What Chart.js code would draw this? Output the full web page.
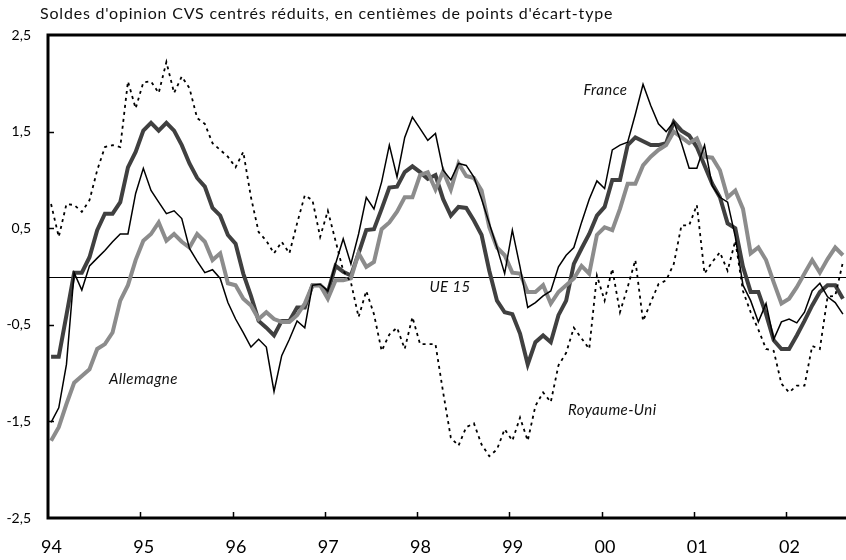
<!DOCTYPE html>
<html>
<head>
<meta charset="utf-8">
<script src="https://cdn.jsdelivr.net/npm/chart.js@4.4.1/dist/chart.umd.min.js"></script>
<style>
  html, body { margin: 0; padding: 0; background: #fff; }
  #wrap { width: 846px; height: 560px; }
</style>
</head>
<body>
<div id="wrap"><canvas id="chart" width="846" height="560"></canvas></div>
<script>
// monthly values, Jan 1994 -> Aug 2002
const yearLabels = ['94', '95', '96', '97', '98', '99', '00', '01', '02'];
const yTickValues = [-2.5, -1.5, -0.5, 0.5, 1.5, 2.5];

const ueData = [
  -0.83, -0.83, -0.40, 0.04, 0.04, 0.20, 0.48, 0.65, 0.65, 0.77,
  1.13, 1.29, 1.51, 1.59, 1.51, 1.59, 1.51, 1.36, 1.17, 1.02,
  0.93, 0.71, 0.63, 0.43, 0.34, 0.03, -0.20, -0.46, -0.53, -0.61,
  -0.46, -0.46, -0.32, -0.32, -0.09, -0.09, -0.16, 0.11, 0.05, 0.01,
  0.24, 0.48, 0.49, 0.70, 0.92, 0.93, 1.08, 1.14, 1.08, 1.01,
  1.05, 0.80, 0.63, 0.72, 0.71, 0.58, 0.43, 0.06, -0.25, -0.37,
  -0.39, -0.59, -0.91, -0.68, -0.61, -0.68, -0.40, -0.25, 0.13, 0.29,
  0.44, 0.63, 0.72, 1.00, 1.00, 1.36, 1.44, 1.40, 1.36, 1.36,
  1.38, 1.60, 1.51, 1.46, 1.34, 1.15, 0.96, 0.82, 0.55, 0.50,
  0.10, -0.16, -0.16, -0.39, -0.66, -0.75, -0.75, -0.61, -0.46, -0.30,
  -0.16, -0.09, -0.09, -0.23
];

const franceData = [
  -1.51, -1.36, -0.91, 0.04, -0.14, 0.11, 0.19, 0.27, 0.36, 0.44,
  0.44, 0.86, 1.12, 0.89, 0.77, 0.65, 0.68, 0.60, 0.29, 0.16,
  0.04, 0.07, -0.02, -0.27, -0.44, -0.58, -0.73, -0.65, -0.73, -1.19,
  -0.82, -0.65, -0.46, -0.53, -0.09, -0.08, -0.15, 0.13, 0.39, 0.13,
  0.44, 0.82, 0.70, 0.98, 1.36, 1.03, 1.44, 1.65, 1.53, 1.41,
  1.48, 1.10, 1.00, 1.17, 1.15, 1.03, 0.80, 0.55, 0.30, 0.03,
  0.48, 0.10, -0.32, -0.27, -0.20, -0.15, 0.10, 0.22, 0.30, 0.56,
  0.80, 0.99, 0.91, 1.31, 1.36, 1.39, 1.68, 1.99, 1.77, 1.58,
  1.50, 1.60, 1.38, 1.12, 1.12, 1.36, 0.94, 0.82, 0.77, 0.41,
  -0.09, -0.25, -0.47, -0.28, -0.65, -0.47, -0.44, -0.48, -0.37, -0.15,
  -0.07, -0.21, -0.27, -0.39
];

const allemagneData = [
  -1.70, -1.56, -1.32, -1.10, -1.03, -0.96, -0.75, -0.70, -0.58, -0.25,
  -0.09, 0.17, 0.37, 0.44, 0.56, 0.37, 0.44, 0.36, 0.30, 0.44,
  0.36, 0.17, 0.24, -0.07, -0.09, -0.23, -0.30, -0.44, -0.37, -0.44,
  -0.47, -0.47, -0.40, -0.28, -0.09, -0.09, -0.23, -0.04, -0.04, -0.02,
  0.24, 0.10, 0.15, 0.49, 0.56, 0.67, 0.82, 0.82, 1.05, 1.08,
  0.90, 1.09, 0.90, 1.17, 1.04, 1.02, 0.89, 0.51, 0.30, 0.22,
  0.04, 0.03, -0.16, -0.16, -0.09, -0.28, -0.16, -0.09, -0.02, 0.11,
  0.03, 0.43, 0.51, 0.48, 0.70, 0.96, 0.96, 1.15, 1.24, 1.31,
  1.36, 1.50, 1.44, 1.38, 1.43, 1.24, 1.23, 1.10, 0.82, 0.89,
  0.70, 0.24, 0.30, 0.17, -0.06, -0.28, -0.23, -0.11, 0.03, 0.17,
  0.04, 0.18, 0.30, 0.22
];

const royaumeUniData = [
  0.75, 0.41, 0.75, 0.74, 0.67, 0.79, 1.10, 1.34, 1.36, 1.34,
  2.02, 1.74, 2.01, 2.02, 1.90, 2.22, 1.90, 2.07, 1.95, 1.64,
  1.58, 1.38, 1.31, 1.24, 1.13, 1.29, 0.82, 0.46, 0.37, 0.24,
  0.36, 0.24, 0.55, 0.84, 0.79, 0.41, 0.68, 0.37, 0.06, -0.06,
  -0.42, -0.15, -0.39, -0.77, -0.60, -0.53, -0.75, -0.42, -0.70, -0.70,
  -0.70, -1.20, -1.67, -1.75, -1.56, -1.52, -1.74, -1.86, -1.79, -1.58,
  -1.70, -1.46, -1.70, -1.34, -1.20, -1.30, -0.92, -0.79, -0.53, -0.64,
  -0.75, 0.01, -0.25, 0.08, -0.37, -0.11, 0.17, -0.46, -0.27, -0.08,
  -0.04, 0.13, 0.53, 0.53, 0.74, 0.03, 0.15, 0.25, 0.06, 0.37,
  -0.15, -0.37, -0.55, -0.75, -0.77, -1.11, -1.20, -1.13, -1.13, -0.72,
  -0.75, -0.21, -0.20, 0.15
];

// series names written inside the plot (month, value)
const seriesLabels = [
  { text: 'France', x: 72.5, y: 1.93 },
  { text: 'UE 15', x: 52.3, y: -0.11 },
  { text: 'Allemagne', x: 12.4, y: -1.06 },
  { text: 'Royaume-Uni', x: 73.4, y: -1.38 }
];

const titleText = "Soldes d'opinion CVS centrés réduits, en centièmes de points d'écart-type";
const FONT = 'Lato, "Open Sans", sans-serif';

const toPoints = (arr) => arr.map((v, i) => ({ x: i + 0.4, y: v }));

const framePlugin = {
  id: 'frame',
  beforeDatasetsDraw(chart) {
    const { ctx, chartArea: a, scales: { y } } = chart;
    const y0 = Math.round(y.getPixelForValue(0)) + 0.5;
    ctx.save();
    ctx.strokeStyle = '#000';
    ctx.lineWidth = 1;
    ctx.beginPath();
    ctx.moveTo(a.left, y0);
    ctx.lineTo(a.right, y0);
    ctx.stroke();
    ctx.restore();
  },
  afterDatasetsDraw(chart) {
    const { ctx, chartArea: a, scales: { x, y } } = chart;
    ctx.save();
    ctx.strokeStyle = '#000';
    ctx.lineWidth = 3;
    ctx.beginPath();
    ctx.moveTo(a.right, a.top);
    ctx.lineTo(a.left, a.top);
    ctx.lineTo(a.left, a.bottom);
    ctx.lineTo(a.right, a.bottom);
    ctx.stroke();

    // inward tick marks
    ctx.lineWidth = 1.5;
    ctx.beginPath();
    yTickValues.slice(1, -1).forEach((v) => {
      const py = Math.round(y.getPixelForValue(v)) + 0.5;
      ctx.moveTo(a.left, py);
      ctx.lineTo(a.left + 6, py);
    });
    for (let k = 1; k < yearLabels.length; k++) {
      const px = Math.round(x.getPixelForValue(12 * k)) + 0.5;
      ctx.moveTo(px, a.bottom);
      ctx.lineTo(px, a.bottom - 6);
    }
    ctx.stroke();

    ctx.fillStyle = '#111';
    ctx.font = 'italic 15px ' + FONT;
    ctx.letterSpacing = '0.4px';
    ctx.textAlign = 'center';
    ctx.textBaseline = 'middle';
    seriesLabels.forEach((l) => {
      ctx.fillText(l.text, x.getPixelForValue(l.x), y.getPixelForValue(l.y));
    });

    ctx.font = '16px ' + FONT;
    ctx.letterSpacing = '0.8px';
    ctx.textAlign = 'left';
    ctx.fillText(titleText, 40, 14);
    ctx.restore();
  }
};

const ctx = document.getElementById('chart').getContext('2d');
new Chart(ctx, {
  type: 'line',
  data: {
    datasets: [
      {
        label: 'Royaume-Uni',
        data: toPoints(royaumeUniData),
        borderColor: '#000',
        borderWidth: 1.8,
        borderDash: [3, 4],
        order: 0
      },
      {
        label: 'France',
        data: toPoints(franceData),
        borderColor: '#000',
        borderWidth: 1.5,
        order: 1
      },
      {
        label: 'Allemagne',
        data: toPoints(allemagneData),
        borderColor: '#8c8c8c',
        borderWidth: 4,
        order: 2
      },
      {
        label: 'UE 15',
        data: toPoints(ueData),
        borderColor: '#404040',
        borderWidth: 4,
        order: 3
      }
    ]
  },
  options: {
    responsive: false,
    animation: false,
    layout: { padding: { top: 35, right: 0, left: 0, bottom: 0 } },
    elements: {
      point: { radius: 0 },
      line: { tension: 0, borderJoinStyle: 'miter', borderCapStyle: 'butt' }
    },
    scales: {
      x: {
        type: 'linear',
        min: 0,
        max: 103.8,
        grid: { display: false, drawTicks: false },
        border: { display: false },
        afterBuildTicks: (axis) => {
          axis.ticks = yearLabels.map((_, k) => ({ value: 12 * k + 0.45 }));
        },
        afterFit: (axis) => { axis.height = 42; },
        ticks: {
          autoSkip: false,
          maxRotation: 0,
          padding: 18,
          color: '#000',
          font: { family: FONT, size: 18 },
          callback: (v, i) => yearLabels[i]
        }
      },
      y: {
        min: -2.5,
        max: 2.5,
        grid: { display: false, drawTicks: false },
        border: { display: false },
        afterBuildTicks: (axis) => {
          axis.ticks = yTickValues.map((v) => ({ value: v }));
        },
        afterFit: (axis) => { axis.width = 48; },
        ticks: {
          padding: 17,
          color: '#000',
          font: { family: FONT, size: 14 },
          callback: (v) => v.toFixed(1).replace('.', ',')
        }
      }
    },
    plugins: {
      legend: { display: false },
      tooltip: { enabled: false }
    }
  },
  plugins: [framePlugin]
});
</script>
</body>
</html>
